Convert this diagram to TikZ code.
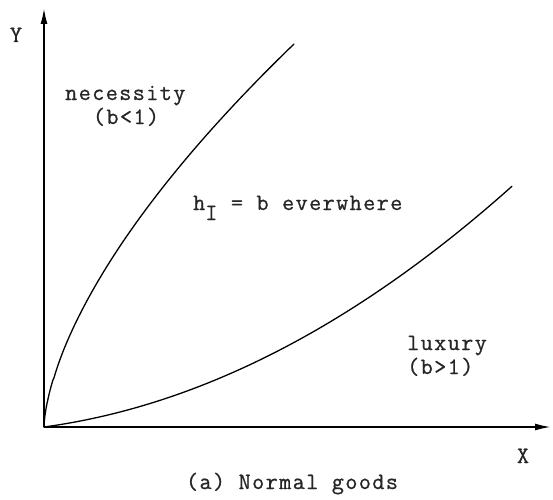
\documentclass[tikz,border=0pt]{standalone}
\usepackage{fontspec}
\newfontfamily\tw{Latin Modern Mono}[LetterSpace=6,FakeBold=0.8]
\usetikzlibrary{arrows.meta}
\tikzset{
  axis/.style={line width=1.8pt, -{Latex[length=16pt,width=7pt]}},
  curve/.style={line width=1.3pt, line cap=round},
  lbl/.style={inner sep=0pt, font=\tw\fontsize{23.5}{28}\selectfont, text=black!85}
}
\begin{document}
\begin{tikzpicture}[x=1pt,y=1pt]
\useasboundingbox (0,0) rectangle (553,499);
\coordinate (O) at (44,72);
\coordinate (Ytop) at (44,491);
\coordinate (Xend) at (551,72);
\draw[axis] (O) -- (Ytop);
\draw[axis] (O) -- (Xend);
% necessity curve
\draw[curve] (O) -- plot[domain=0.5:383, samples=150] ({44+250*(\x/383)^1.587},{72+\x});
% luxury curve
\draw[curve] plot[domain=0:468, samples=150] ({44+\x},{72+0.136*\x+0.000805*\x*\x});
% labels
\node[lbl, anchor=base] (ylab) at (16,457) {Y};
\node[lbl, anchor=base] (xlab) at (523,36) {X};
\node[lbl, anchor=base west] (nec) at (65,399) {necessity};
\node[lbl, anchor=base] (necb) at (126,375) {(b<1)};
\node[lbl, anchor=base west] (hI) at (193,289) {h\raisebox{-10pt}{I} = b everwhere};
\node[lbl, anchor=base west] (lux) at (407,149) {luxury};
\node[lbl, anchor=base west] (luxb) at (407,125) {(b>1)};
\node[lbl, anchor=base] (cap) at (292,10) {(a) Normal goods};
\end{tikzpicture}
\end{document}
